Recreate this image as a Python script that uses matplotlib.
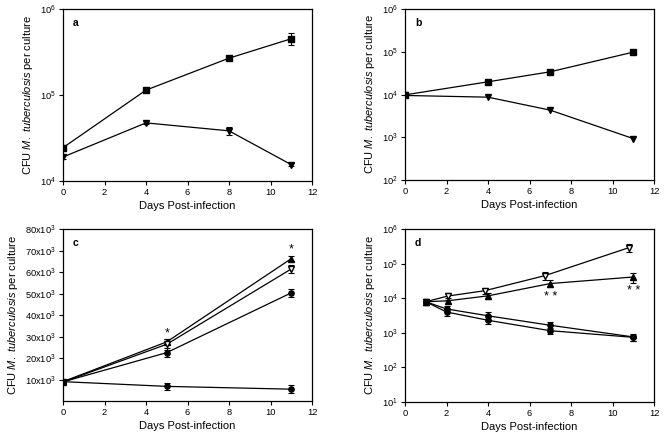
import numpy as np
import matplotlib
matplotlib.use("Agg")
import matplotlib.pyplot as plt
from matplotlib.ticker import FixedLocator, FixedFormatter, LogLocator, NullLocator

plt.rcParams['font.family'] = ['Liberation Sans', 'DejaVu Sans']
plt.rcParams['mathtext.fontset'] = 'custom'
plt.rcParams['mathtext.rm'] = 'Liberation Sans'
plt.rcParams['mathtext.it'] = 'Liberation Sans:italic'
plt.rcParams['mathtext.bf'] = 'Liberation Sans:bold'

# ---- panel a ----
a_days = [0, 4, 8, 11]
a_sq = [24400, 114000, 268000, 451000]
a_sq_err = [1500, 5000, 9000, 70000]
a_tri = [19000, 47400, 38300, 15500]
a_tri_err = [800, 2000, 4000, 700]

# ---- panel b ----
b_days = [0, 4, 7, 11]
b_sq = [9800, 19800, 34000, 98000]
b_tri = [9500, 8660, 4300, 930]

# ---- panel c ----
c_days = [0, 5, 11]
c_tri = [9000, 27500, 66200]
c_tri_err = [800, 1200, 1200]
c_open = [8800, 26400, 61400]
c_open_err = [900, 2500, 2000]
c_circ = [8900, 22500, 50300]
c_circ_err = [900, 2200, 2000]
c_low = [9000, 6800, 5500]
c_low_err = [1200, 1800, 1800]
c_ticks = [10000, 20000, 30000, 40000, 50000, 60000, 70000, 80000]
c_ticklabels = [r'$\mathregular{%dx10^3}$' % (t // 1000) for t in c_ticks]

# ---- panel d ----
d_open_days = [1, 2.05, 3.85, 6.75, 10.8]
d_open = [7900, 11500, 16500, 45000, 290000]
d_open_err = [1500, 2500, 3500, 12000, 70000]
d_tri_days = [1, 2.05, 4, 7, 11]
d_tri = [7900, 8400, 11700, 26500, 41000]
d_tri_err = [1500, 1500, 2000, 6000, 13000]
d_c1_days = [1, 2, 4, 7, 11]
d_c1 = [7900, 4900, 3100, 1650, 760]
d_c1_err = [1500, 900, 900, 400, 180]
d_c2 = [7900, 4000, 2300, 1150, 740]
d_c2_err = [1500, 900, 500, 250, 150]

fig = plt.figure(figsize=(6.64, 4.37), dpi=100)
W, H = 664, 437


def make_ax(l, t, r, b):
    return fig.add_axes([l / W, 1 - b / H, (r - l) / W, (b - t) / H])


axa = make_ax(63, 9, 312, 181)
axb = make_ax(405, 9, 654, 180)
axc = make_ax(63, 229, 312, 401)
axd = make_ax(405, 229, 654, 402)

line_kw = dict(color='black', lw=0.9, ms=4.3, capsize=2.5, elinewidth=0.8, capthick=0.8)
circ_kw = dict(color='black', lw=0.9, ms=3.8, capsize=2.5, elinewidth=0.8, capthick=0.8)

# a
axa.errorbar(a_days, a_sq, yerr=a_sq_err, marker='s', **line_kw)
axa.errorbar(a_days, a_tri, yerr=a_tri_err, marker='v', **line_kw)
axa.set_yscale('log')
axa.set_ylim(1e4, 1e6)

# b
axb.errorbar(b_days, b_sq, marker='s', **line_kw)
axb.errorbar(b_days, b_tri, marker='v', **line_kw)
axb.set_yscale('log')
axb.set_ylim(1e2, 1e6)

# c
axc.errorbar(c_days, c_tri, yerr=c_tri_err, marker='^', **line_kw)
axc.errorbar(c_days, c_open, yerr=c_open_err, marker='v', mfc='white', **line_kw)
axc.errorbar(c_days, c_circ, yerr=c_circ_err, marker='o', **circ_kw)
axc.errorbar(c_days, c_low, yerr=c_low_err, marker='o', **circ_kw)
axc.set_ylim(0, 80000)
axc.yaxis.set_major_locator(FixedLocator(c_ticks))
axc.yaxis.set_major_formatter(FixedFormatter(c_ticklabels))
axc.text(5, 31200, '*', ha='center', va='center', fontsize=9)
axc.text(11, 70500, '*', ha='center', va='center', fontsize=9)

# d
axd.errorbar(d_open_days, d_open, yerr=d_open_err, marker='v', mfc='white', **line_kw)
axd.errorbar(d_tri_days, d_tri, yerr=d_tri_err, marker='^', **circ_kw)
axd.errorbar(d_c1_days, d_c1, yerr=d_c1_err, marker='o', **circ_kw)
axd.errorbar(d_c1_days, d_c2, yerr=d_c2_err, marker='o', **circ_kw)
axd.set_yscale('log')
axd.set_ylim(1e1, 1e6)
axd.text(7, 1.1e4, '* *', ha='center', va='center', fontsize=9)
axd.text(11, 1.65e4, '* *', ha='center', va='center', fontsize=9)

for ax, lab in zip([axa, axb, axc, axd], ['a', 'b', 'c', 'd']):
    ax.set_xlim(0, 12)
    ax.set_xticks(range(0, 13, 2))
    if ax.get_yscale() == 'log':
        ax.yaxis.set_major_locator(LogLocator(base=10, numticks=10))
        ax.yaxis.set_minor_locator(NullLocator())
    ax.tick_params(direction='out', length=3, width=0.8, labelsize=6.7, pad=2, colors='black')
    for s in ax.spines.values():
        s.set_linewidth(0.9)
    ax.set_xlabel('Days Post-infection', fontsize=8, labelpad=3)
    ax.set_ylabel(r'CFU $\it{M.\ tuberculosis}$ per culture', fontsize=8, labelpad=4)
    ax.text(0.04, 0.95, lab, transform=ax.transAxes, ha='left', va='top',
            fontsize=7.5, fontweight='bold')

fig.savefig('out.png', dpi=100)
